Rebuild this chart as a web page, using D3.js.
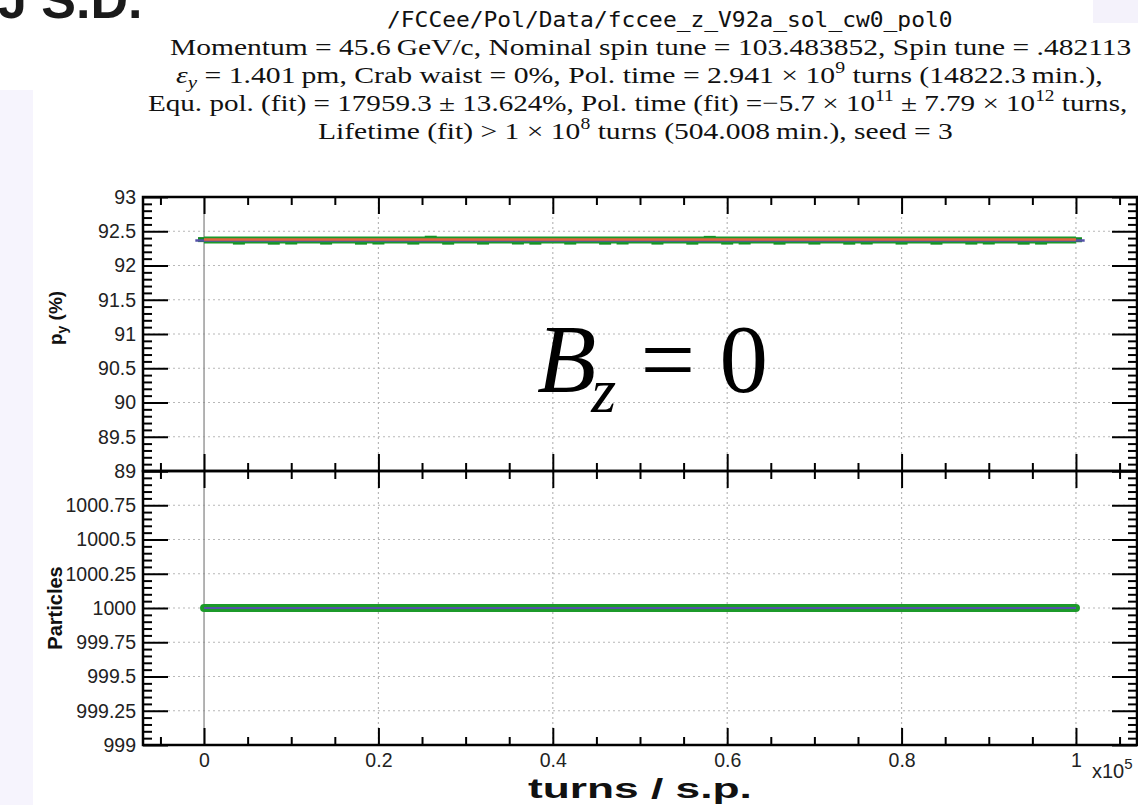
<!DOCTYPE html>
<html>
<head>
<meta charset="utf-8">
<script src="https://cdn.jsdelivr.net/npm/d3@7"></script>
<style>
  html, body { margin: 0; padding: 0; background: #fff; }
  svg { display: block; }
  .tick text { font-family: "Liberation Sans", Arial, sans-serif; font-size: 19.5px; fill: #222; }
  .tick line { stroke: #000; stroke-width: 2; }
</style>
</head>
<body>
<svg id="chart" width="1138" height="805"></svg>
<script>
// ---- data -------------------------------------------------------------
// sampling turns (per spin-polarisation sample)
const turnsSamples = [
  0, 2000, 4000, 6000, 8000, 10000, 12000, 14000, 16000, 18000,
  20000, 22000, 24000, 26000, 28000, 30000, 32000, 34000, 36000, 38000,
  40000, 42000, 44000, 46000, 48000, 50000, 52000, 54000, 56000, 58000,
  60000, 62000, 64000, 66000, 68000, 70000, 72000, 74000, 76000, 78000,
  80000, 82000, 84000, 86000, 88000, 90000, 92000, 94000, 96000, 98000,
  100000
];
// measured vertical polarisation p_y (%)
const pyMeasured = [
  92.378, 92.377, 92.342, 92.378, 92.341, 92.343, 92.379, 92.342, 92.377, 92.341,
  92.343, 92.378, 92.342, 92.398, 92.341, 92.379, 92.342, 92.378, 92.343, 92.341,
  92.378, 92.342, 92.377, 92.341, 92.343, 92.378, 92.342, 92.379, 92.341, 92.396,
  92.342, 92.343, 92.378, 92.341, 92.377, 92.342, 92.378, 92.341, 92.343, 92.379,
  92.342, 92.377, 92.341, 92.378, 92.342, 92.343, 92.378, 92.341, 92.342, 92.378,
  92.376
];
// exponential fit of p_y
const fitTurns = [0, 100000];
const pyFit = [92.378, 92.378];
// model curve of p_y
const modelTurns = [-1000, 101000];
const pyModel = [92.366, 92.366];

// surviving particles
const particleTurns = [0, 10000, 20000, 30000, 40000, 50000, 60000, 70000, 80000, 90000, 100000];
const particleCount = [1000, 1000, 1000, 1000, 1000, 1000, 1000, 1000, 1000, 1000, 1000];

// axis ticks
const xMajorTicks = [0, 20000, 40000, 60000, 80000, 100000];
const pyMajorTicks = [89, 89.5, 90, 90.5, 91, 91.5, 92, 92.5, 93];
const partMajorTicks = [999, 999.25, 999.5, 999.75, 1000, 1000.25, 1000.5, 1000.75, 1001];

// header lines: each is a list of [text, style] runs
const headerLines = [
  { font: "mono", runs: [["/FCCee/Pol/Data/fccee_z_V92a_sol_cw0_pol0", ""]] },
  { font: "serif", runs: [["Momentum = 45.6\u2009GeV/c, Nominal spin tune = 103.483852, Spin tune = .482113", ""]] },
  { font: "serif", runs: [["\u03b5", "it"], ["y", "subit"], [" = 1.401\u2009pm, Crab waist = 0%, Pol. time = 2.941 \u00d7 10", ""], ["9", "sup"], [" turns (14822.3\u2009min.),", ""]] },
  { font: "serif", runs: [["Equ. pol. (fit) = 17959.3 \u00b1 13.624%, Pol. time (fit) =\u22125.7 \u00d7 10", ""], ["11", "sup"], [" \u00b1 7.79 \u00d7 10", ""], ["12", "sup"], [" turns,", ""]] },
  { font: "serif", runs: [["Lifetime (fit) > 1 \u00d7 10", ""], ["8", "sup"], [" turns (504.008\u2009min.), seed = 3", ""]] }
];

// ---- layout -----------------------------------------------------------
const W = 1138, H = 805;
const L = 143, R = 1137;
const topY = 197, midY = 471, botY = 745;
const sans = "Liberation Sans, Arial, sans-serif";

const svg = d3.select("#chart");
svg.append("rect").attr("width", W).attr("height", H).attr("fill", "#fff");

// slide backdrop panels
svg.append("rect").attr("x", 0).attr("y", 90).attr("width", 33).attr("height", H - 90).attr("fill", "#f6f4fd");
svg.append("rect").attr("x", 1093).attr("y", 0).attr("width", 45).attr("height", 23).attr("fill", "#f4f2fb");
svg.append("text").attr("x", -2).attr("y", 18)
  .attr("font-family", sans).attr("font-weight", "bold")
  .attr("font-size", 52).attr("fill", "#1a1a1a").text("J S.D.");

// ---- scales -----------------------------------------------------------
const x = d3.scaleLinear().domain([-7000, 107000]).range([L, R]);
const yPy = d3.scaleLinear().domain([89, 93]).range([midY, topY]);
const yPart = d3.scaleLinear().domain([999, 1001]).range([botY, midY]);

const xMinor = d3.range(-5000, 107000, 5000).filter(v => v % 20000 !== 0);
const pyMinor = d3.range(89, 93.0001, 0.1).map(v => +v.toFixed(2)).filter(v => Math.abs(v * 2 - Math.round(v * 2)) > 1e-6);
const partMinor = d3.range(999, 1001.0001, 0.05).map(v => +v.toFixed(2)).filter(v => Math.abs(v * 4 - Math.round(v * 4)) > 1e-6);

// ---- header -----------------------------------------------------------
const header = svg.append("g");
const headerBaselines = [27, 55, 83, 111, 139];
const headerBoxes = [[387, 953], [170, 1132], [176, 1103], [148, 1128], [318, 953]];
headerLines.forEach((line, i) => {
  const t = header.append("text")
    .attr("x", 0).attr("y", headerBaselines[i])
    .attr("font-family", line.font === "mono" ? "DejaVu Sans Mono, monospace" : "Liberation Serif, Times New Roman, serif")
    .attr("font-size", line.font === "mono" ? 21 : 24)
    .attr("fill", "#111");
  let shift = 0;
  line.runs.forEach(([txt, style]) => {
    const s = t.append("tspan").text(txt);
    let target = 0;
    if (style === "sup") { target = -10; s.attr("font-size", 16); }
    if (style === "subit") { target = 5; s.attr("font-size", 17).attr("font-style", "italic"); }
    if (style === "it") s.attr("font-style", "italic");
    s.attr("dy", target - shift);
    shift = target;
  });
  // stretch the line to fill its box
  const bb = t.node().getBBox();
  const [x0, x1] = headerBoxes[i];
  const sx = (x1 - x0) / bb.width;
  t.attr("transform", `translate(${x0},0) scale(${sx},1) translate(${-bb.x},0)`);
});

// ---- grid -------------------------------------------------------------
const grid = svg.append("g").attr("stroke", "#b8b8b8").attr("stroke-width", 1.2).attr("stroke-dasharray", "2,3");
pyMajorTicks.slice(1, -1).forEach(v =>
  grid.append("line").attr("x1", L).attr("x2", R).attr("y1", yPy(v)).attr("y2", yPy(v)));
partMajorTicks.slice(1, -1).forEach(v =>
  grid.append("line").attr("x1", L).attr("x2", R).attr("y1", yPart(v)).attr("y2", yPart(v)));
xMajorTicks.slice(1).forEach(v =>
  grid.append("line").attr("x1", x(v)).attr("x2", x(v)).attr("y1", topY).attr("y2", botY));
// solid zero-turn marker
svg.append("line").attr("x1", x(0)).attr("x2", x(0)).attr("y1", topY).attr("y2", botY)
  .attr("stroke", "#8a8a8a").attr("stroke-width", 1.3);

// ---- data: polarisation panel ----------------------------------------
const green = "#1c9a2a", darkGreen = "#138a22", red = "#e5643c", blue = "#5552a8";
const linePy = d3.line().x(d => x(d[0])).y(d => yPy(d[1]));
const meas = d3.zip(turnsSamples, pyMeasured);
svg.append("g").selectAll("rect").data(meas).join("rect")
  .attr("x", d => x(d[0]) - 6).attr("y", d => yPy(d[1]) - 2.5)
  .attr("width", 12).attr("height", 5).attr("fill", darkGreen);
svg.append("path").datum(meas.map(d => [d[0], 92.374]))
  .attr("d", linePy).attr("fill", "none").attr("stroke", green).attr("stroke-width", 7);
svg.append("path").datum(d3.zip(modelTurns, pyModel))
  .attr("d", linePy).attr("fill", "none").attr("stroke", blue).attr("stroke-width", 2.5);
svg.append("path").datum(d3.zip(fitTurns, pyFit))
  .attr("d", linePy).attr("fill", "none").attr("stroke", red).attr("stroke-width", 2.5);

// ---- data: particle panel --------------------------------------------
const linePart = d3.line().x(d => x(d[0])).y(d => yPart(d[1]));
const parts = d3.zip(particleTurns, particleCount);
svg.append("path").datum(parts).attr("d", linePart).attr("fill", "none")
  .attr("stroke", green).attr("stroke-width", 8).attr("stroke-linecap", "round");
svg.append("path").datum(parts).attr("d", linePart).attr("fill", "none")
  .attr("stroke", blue).attr("stroke-width", 2.2);

// ---- axes -------------------------------------------------------------
const strip = g => g.select(".domain").remove();
const fmt = d3.format("~g");

function panelAxes(y, major, minor, labelFmt, yTop, yBottom) {
  svg.append("g").attr("transform", `translate(${L},0)`)
    .call(d3.axisLeft(y).tickValues(major).tickSizeInner(-25).tickSizeOuter(0).tickPadding(7).tickFormat(labelFmt)).call(strip);
  svg.append("g").attr("transform", `translate(${L},0)`)
    .call(d3.axisLeft(y).tickValues(minor).tickSizeInner(-9).tickSizeOuter(0).tickFormat("")).call(strip);
  svg.append("g").attr("transform", `translate(${R},0)`)
    .call(d3.axisRight(y).tickValues(major).tickSizeInner(-25).tickSizeOuter(0).tickFormat("")).call(strip);
  svg.append("g").attr("transform", `translate(${R},0)`)
    .call(d3.axisRight(y).tickValues(minor).tickSizeInner(-9).tickSizeOuter(0).tickFormat("")).call(strip);
  svg.append("g").attr("transform", `translate(0,${yTop})`)
    .call(d3.axisTop(x).tickValues(xMajorTicks).tickSizeInner(-17).tickSizeOuter(0).tickFormat("")).call(strip);
  svg.append("g").attr("transform", `translate(0,${yTop})`)
    .call(d3.axisTop(x).tickValues(xMinor).tickSizeInner(-8).tickSizeOuter(0).tickFormat("")).call(strip);
  svg.append("g").attr("transform", `translate(0,${yBottom})`)
    .call(d3.axisBottom(x).tickValues(xMinor).tickSizeInner(-8).tickSizeOuter(0).tickFormat("")).call(strip);
}
panelAxes(yPy, pyMajorTicks, pyMinor, fmt, topY, midY);
panelAxes(yPart, partMajorTicks, partMinor, d => d === 1001 ? "" : fmt(d), midY, botY);

// upper panel's lower major ticks (pointing up)
svg.append("g").attr("transform", `translate(0,${midY})`)
  .call(d3.axisBottom(x).tickValues(xMajorTicks).tickSizeInner(-17).tickSizeOuter(0).tickFormat("")).call(strip);
// bottom axis with labels
svg.append("g").attr("transform", `translate(0,${botY})`)
  .call(d3.axisBottom(x).tickValues(xMajorTicks).tickSizeInner(-17).tickSizeOuter(0).tickPadding(8)
    .tickFormat(d => fmt(d / 1e5))).call(strip);

// frames
[[topY, midY], [midY, botY]].forEach(([a, b]) =>
  svg.append("rect").attr("x", L).attr("y", a).attr("width", R - L).attr("height", b - a)
    .attr("fill", "none").attr("stroke", "#000").attr("stroke-width", 2.5));

// axis scale factor
const mult = svg.append("text").attr("x", 1092).attr("y", 778)
  .attr("font-family", sans).attr("font-size", 20).attr("fill", "#222");
mult.append("tspan").text("x10");
mult.append("tspan").attr("dy", -9).attr("font-size", 15).text("5");

// ---- axis titles ------------------------------------------------------
const pyTitle = svg.append("text").attr("transform", "translate(62,318) rotate(-90)")
  .attr("text-anchor", "middle").attr("font-family", sans).attr("font-weight", "bold")
  .attr("font-size", 19).attr("fill", "#111");
pyTitle.append("tspan").text("p");
pyTitle.append("tspan").attr("dy", 5).attr("font-size", 14).text("y");
pyTitle.append("tspan").attr("dy", -5).text(" (%)");

svg.append("text").attr("transform", "translate(62,608) rotate(-90)")
  .attr("text-anchor", "middle").attr("font-family", sans).attr("font-weight", "bold")
  .attr("font-size", 20).attr("fill", "#111").text("Particles");

const xTitle = svg.append("text").attr("x", 0).attr("y", 798)
  .attr("font-family", sans).attr("font-weight", "bold").attr("font-size", 27).attr("fill", "#111")
  .text("turns / s.p.");
{
  const bb = xTitle.node().getBBox();
  const x0 = 528, x1 = 752;
  xTitle.attr("transform", `translate(${x0},0) scale(${(x1 - x0) / bb.width},1) translate(${-bb.x},0)`);
}

// ---- annotation -------------------------------------------------------
const ann = svg.append("text").attr("x", 537).attr("y", 392)
  .attr("font-family", "Liberation Serif, Times New Roman, serif").attr("font-size", 97).attr("fill", "#000");
ann.append("tspan").attr("font-style", "italic").text("B");
ann.append("tspan").attr("font-style", "italic").attr("font-size", 64).attr("dy", 20).attr("dx", -5).text("z");
ann.append("tspan").attr("dy", -20).text(" = 0");
</script>
</body>
</html>
